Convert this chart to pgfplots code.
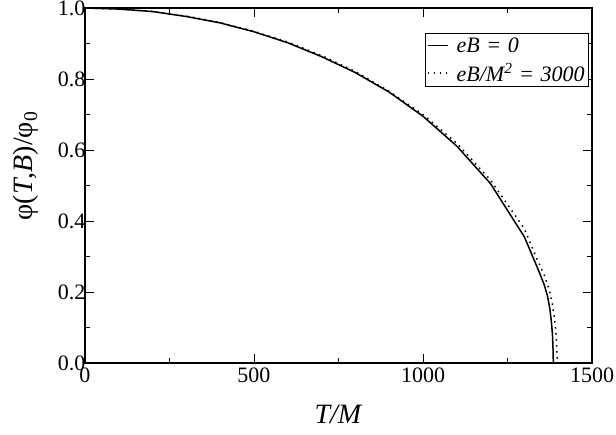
\documentclass[border=0pt]{standalone}
\usepackage{fontspec}
\setmainfont{Liberation Serif}
\usepackage{pgfplots}
\pgfplotsset{compat=1.18}
\begin{document}
\begin{tikzpicture}
\begin{axis}[
 name=ax, at={(0,0)}, anchor=south west,
 scale only axis, width=507pt, height=355pt,
 xmin=0, xmax=1500, ymin=0, ymax=1,
 xtick={0,500,1000,1500}, ytick={0,0.2,0.4,0.6,0.8,1.0},
 minor x tick num=1, minor y tick num=1,
 tick align=inside, major tick length=9pt, minor tick length=5pt,
 axis line style={line width=1.4pt},
 every tick/.style={line width=0.9pt, black},
 tick label style={font=\fontsize{22}{22}\selectfont},
 xticklabel style={yshift=-1.5pt},
 yticklabel style={xshift=4pt, /pgf/number format/.cd, fixed, fixed zerofill, precision=1},
 /pgf/number format/assume math mode=true,
 /pgf/number format/1000 sep={},
 xlabel={\textit{T/M}}, ylabel={φ(\textit{T},\textit{B})/φ\textsubscript{0}},
 label style={font=\fontsize{28}{28}\selectfont},
 xlabel style={at={(axis description cs:0.5,-0.1718)}, anchor=base},
 ylabel style={at={(axis description cs:-0.1164,0.555)}, anchor=center},
 legend style={at={(axis description cs:0.994,0.9296)}, anchor=north east, draw=black, line width=0.9pt,
   font=\fontsize{22}{22}\selectfont\itshape, inner sep=2pt, row sep=6pt, column sep=6pt,
   nodes={inner sep=2pt}},
 legend cell align=left,
 legend image code/.code={\draw[#1] (0pt,0pt) -- (20pt,0pt);},
]
\addplot[black, line width=1.5pt] coordinates {
(0,1.0) (100,0.997) (200,0.990) (300,0.976) (400,0.958) (500,0.933) (600,0.902)
(700,0.863) (800,0.818) (900,0.763) (1000,0.695) (1100,0.611) (1200,0.505)
(1300,0.355) (1320,0.310) (1340,0.265) (1358,0.222) (1368,0.190) (1375,0.155)
(1380,0.115) (1383,0.080) (1384.5,0.045) (1385.3,0.015) (1385.5,0.0)};
\addlegendentry{eB\hspace{0.3em}=\hspace{0.3em}0}
\addplot[black, line width=1.5pt, dash pattern=on 1.5pt off 4.5pt] coordinates {
(0,1.0) (100,0.997) (200,0.990) (300,0.977) (400,0.959) (500,0.934) (600,0.904)
(700,0.866) (800,0.821) (900,0.765) (1000,0.700) (1100,0.619) (1200,0.515)
(1300,0.378) (1334,0.300) (1360,0.245) (1374,0.205) (1383,0.165) (1389,0.125)
(1393,0.090) (1395.5,0.050) (1396.7,0.020) (1397,0.0)};
\addlegendentry{eB/M\textsuperscript{2}\hspace{0.3em}=\hspace{0.3em}3000}
\end{axis}
\pgfresetboundingbox
\path[use as bounding box] ([xshift=-85pt,yshift=-71pt]ax.south west) rectangle ([xshift=24pt,yshift=8pt]ax.north east);
\end{tikzpicture}
\end{document}
